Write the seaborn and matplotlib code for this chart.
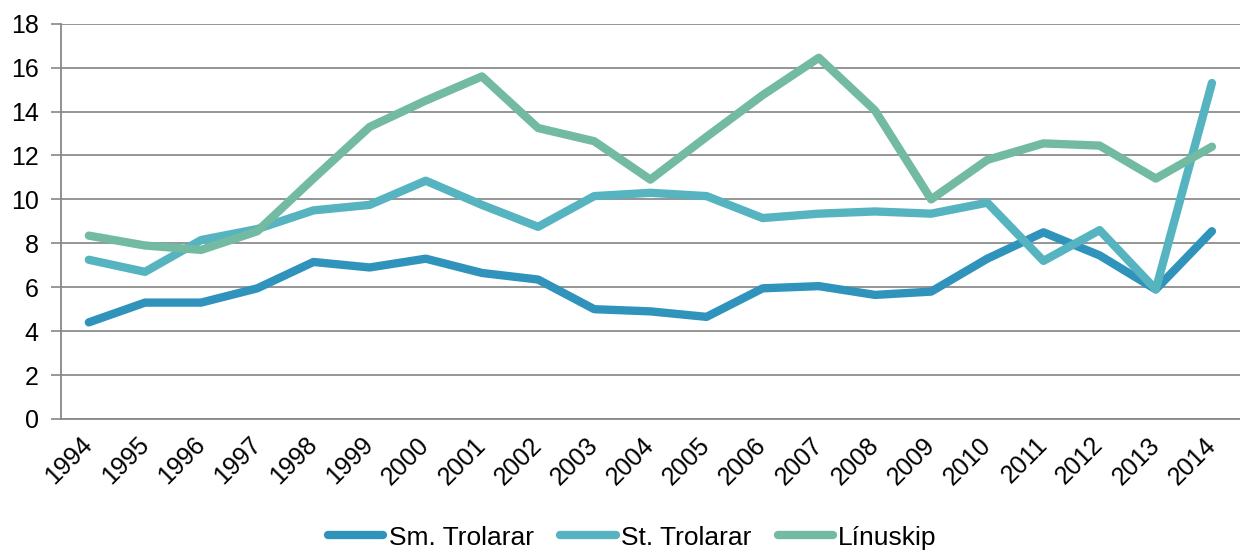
import pandas as pd
import numpy as np
import matplotlib
matplotlib.use('Agg')
import matplotlib.pyplot as plt
import seaborn as sns

# Data
years = [str(y) for y in range(1994, 2015)]
sm_trolarar = [4.4, 5.3, 5.3, 5.95, 7.15, 6.9, 7.3, 6.65, 6.35, 5.0, 4.9, 4.65,
               5.95, 6.05, 5.65, 5.8, 7.3, 8.5, 7.45, 5.9, 8.55]
st_trolarar = [7.25, 6.7, 8.15, 8.65, 9.5, 9.75, 10.85, 9.75, 8.75, 10.15, 10.3, 10.15,
               9.15, 9.35, 9.45, 9.35, 9.85, 7.2, 8.6, 5.9, 15.3]
linuskip = [8.35, 7.9, 7.7, 8.55, 10.95, 13.3, 14.5, 15.6, 13.25, 12.65, 10.9, 12.85,
            14.75, 16.45, 14.05, 10.0, 11.8, 12.55, 12.45, 10.95, 12.4]
series_names = ['Sm. Trolarar', 'St. Trolarar', 'Línuskip']
colors = ['#3093bc', '#55b4c0', '#72baa1']

# Long form table for seaborn
df = pd.DataFrame({
    'idx': list(range(len(years))) * 3,
    'value': sm_trolarar + st_trolarar + linuskip,
    'series': [n for n in series_names for _ in years],
})

sns.set_style('white')
plt.rcParams['font.family'] = ['Liberation Sans', 'DejaVu Sans']
plt.rcParams['text.color'] = 'black'
plt.rcParams['xtick.color'] = 'black'
plt.rcParams['ytick.color'] = 'black'

fig = plt.figure(figsize=(12.4, 5.52), dpi=100)
ax = fig.add_axes([0.049, 0.241, 0.951, 0.716])

sns.lineplot(data=df, x='idx', y='value', hue='series', palette=colors,
             linewidth=6, ax=ax, legend=False, solid_capstyle='round',
             solid_joinstyle='round')

ax.set_ylim(0, 18)
ax.set_yticks(range(0, 19, 2))
ax.set_xlim(-0.5, 20.4)
ax.set_xticks(range(len(years)))
ax.set_xticklabels(years, rotation=45, ha='right', va='center', rotation_mode='anchor')
ax.set_xticks(np.arange(-0.5, 20.6, 1), minor=True)
ax.tick_params(axis='x', which='major', length=0, pad=16, labelsize=18, labelcolor='black')
ax.tick_params(axis='x', which='minor', length=6, width=1.2, color='#888888', direction='out')
ax.tick_params(axis='y', length=7, width=1.2, color='#888888', labelsize=18, pad=9,
               left=True, labelcolor='black')
ax.set_xlabel('')
ax.set_ylabel('')

ax.yaxis.grid(True, color='#8c8c8c', linewidth=1.3)
ax.set_axisbelow(True)
for s in ['top', 'right']:
    ax.spines[s].set_visible(False)
for s in ['left', 'bottom']:
    ax.spines[s].set_color('#888888')
    ax.spines[s].set_linewidth(1.3)

handles = [plt.Line2D([], [], color=c, linewidth=6, solid_capstyle='round') for c in colors]
fig.legend(handles, series_names, loc='center', bbox_to_anchor=(0.51, 0.026), ncol=3,
           frameon=False, fontsize=19, handlelength=2.1, handletextpad=0.2,
           columnspacing=1.0)

fig.savefig('out.png', dpi=100)
